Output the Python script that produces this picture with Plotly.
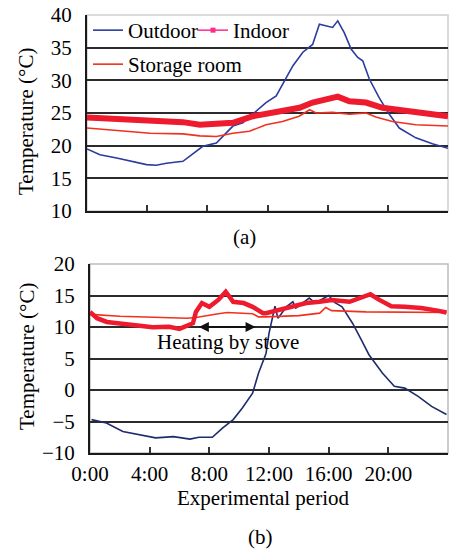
import plotly.graph_objects as go

# ---------------- data (hours of day, °C) ----------------
tick_hours = [0, 4, 8, 12, 16, 20]
tick_labels = ["0:00", "4:00", "8:00", "12:00", "16:00", "20:00"]

# (a) summer day
out_a_t = [0, 0.86, 1.97, 3.07, 3.96, 4.6, 5.28, 6.38, 7.04, 7.7, 8.6, 9.26, 9.7, 10.36, 11.03,
           11.9, 12.58, 13.13, 13.68, 14.35, 15.0, 15.45, 15.9, 16.33, 16.67, 17.1, 17.56,
           18.0, 18.33, 18.77, 19.43, 20.1, 20.76, 21.86, 22.96, 24.0]
out_a_v = [19.5, 18.6, 18.1, 17.6, 17.1, 17.0, 17.3, 17.6, 18.8, 19.9, 20.4, 21.9, 23.0, 23.5, 24.8,
           26.6, 27.6, 29.9, 32.2, 34.3, 35.5, 38.6, 38.4, 38.1, 39.1, 37.3, 34.8,
           33.5, 33.0, 30.2, 27.3, 24.8, 22.7, 21.2, 20.3, 19.6]

in_a_t = [0, 3.07, 6.38, 7.5, 9.7, 11.03, 11.9, 13.24, 14.13, 15.0, 15.9, 16.67, 17.45, 18.55,
          19.65, 20.76, 21.86, 22.96, 24.0]
in_a_v = [24.3, 23.9, 23.6, 23.2, 23.5, 24.5, 24.9, 25.3, 25.8, 26.6, 27.1, 27.5, 26.8, 26.6,
          25.8, 25.5, 25.1, 24.9, 24.5]

st_a_t = [0, 2.0, 4.2, 6.38, 7.5, 8.6, 9.7, 10.8, 11.9, 13.0, 14.1, 14.8, 15.23, 16.33, 17.45,
          18.55, 19.2, 20.3, 21.86, 24.0]
st_a_v = [22.7, 22.3, 21.9, 21.8, 21.5, 21.4, 21.9, 22.2, 23.2, 23.7, 24.5, 25.5, 25.0, 25.1,
          24.8, 25.0, 24.4, 23.7, 23.2, 23.0]

# (b) winter day
out_b_t = [0.1, 1.1, 2.2, 3.3, 4.4, 5.6, 6.7, 7.3, 8.2, 8.9, 9.6, 10.2, 10.9, 11.3, 11.8, 12.0,
           12.4, 12.6, 13.2, 13.6, 13.8, 14.7, 15.1, 16.0, 16.4, 16.9, 17.6, 18.2, 18.7, 19.6,
           20.4, 21.1, 22.0, 22.9, 23.9]
out_b_v = [-4.7, -5.25, -6.6, -7.1, -7.6, -7.4, -7.8, -7.5, -7.5, -6.0, -4.7, -2.9, -0.5, 2.7,
           5.8, 9.0, 13.3, 11.4, 13.3, 14.0, 13.0, 14.6, 13.8, 15.0, 13.9, 13.2, 10.6, 7.9, 5.6,
           2.7, 0.6, 0.3, -1.0, -2.6, -3.9]

in_b_t = [0.0, 0.47, 1.13, 2.0, 3.1, 4.2, 5.3, 6.0, 6.9, 7.1, 7.5, 8.0, 8.6, 9.1, 9.6, 10.3,
          10.9, 11.6, 11.8, 12.7, 13.6, 14.5, 15.4, 16.2, 17.4, 18.2, 18.8, 19.4, 20.2, 21.1,
          22.2, 23.3, 23.9]
in_b_v = [12.4, 11.4, 10.8, 10.6, 10.3, 9.95, 10.05, 9.7, 10.6, 12.4, 13.8, 13.2, 14.3, 15.6,
          14.0, 13.8, 13.2, 12.2, 12.2, 12.7, 13.2, 13.8, 14.0, 14.3, 14.0, 14.6, 15.2, 14.3,
          13.3, 13.2, 13.0, 12.6, 12.3]

st_b_t = [0.0, 2.0, 6.5, 7.1, 8.6, 9.2, 10.9, 11.3, 11.8, 14.0, 15.4, 15.8, 16.2, 18.5, 23.9]
st_b_v = [12.0, 11.7, 11.4, 11.5, 12.1, 12.3, 12.1, 11.6, 11.6, 11.8, 12.2, 13.1, 12.6, 12.4, 12.3]

heat_start, heat_end, heat_level = 7.2, 11.1, 10.0

# ---------------- styling ----------------
FONT = "Liberation Serif"
FS = 21
BLUE_A = "#2a3c9c"
BLUE_B = "#1f2c6c"
RED_IN = "#ee1a2e"
RED_ST = "#f2301e"
GRID = "#2b2b2b"

fig = go.Figure()

# top panel
fig.add_trace(go.Scatter(x=out_a_t, y=out_a_v, mode="lines", name="Outdoor",
                         line=dict(color=BLUE_A, width=1.6), xaxis="x", yaxis="y",
                         legend="legend"))
fig.add_trace(go.Scatter(x=st_a_t, y=st_a_v, mode="lines", name="Storage room",
                         line=dict(color=RED_ST, width=1.6), xaxis="x", yaxis="y",
                         legend="legend2"))
fig.add_trace(go.Scatter(x=in_a_t, y=in_a_v, mode="lines", name="Indoor",
                         line=dict(color=RED_IN, width=6), xaxis="x", yaxis="y",
                         showlegend=False))
# legend-only entry for Indoor (thin magenta line with square marker)
fig.add_trace(go.Scatter(x=[None], y=[None], mode="lines+markers", name="Indoor",
                         line=dict(color="#ff2a8a", width=1.5),
                         marker=dict(symbol="square", size=5, color="#ff2a8a"),
                         xaxis="x", yaxis="y", legend="legend"))

# bottom panel
fig.add_trace(go.Scatter(x=out_b_t, y=out_b_v, mode="lines", line=dict(color=BLUE_B, width=1.6),
                         xaxis="x2", yaxis="y2", showlegend=False))
fig.add_trace(go.Scatter(x=st_b_t, y=st_b_v, mode="lines", line=dict(color=RED_ST, width=1.6),
                         xaxis="x2", yaxis="y2", showlegend=False))
fig.add_trace(go.Scatter(x=in_b_t, y=in_b_v, mode="lines", line=dict(color=RED_IN, width=4.5),
                         xaxis="x2", yaxis="y2", showlegend=False))

W, H = 449, 554
def px_x(p): return p / W
def px_y(p): return 1 - p / H

axis_common = dict(showgrid=True, gridcolor=GRID, gridwidth=2, zeroline=False,
                   showline=True, linecolor="#1a1a1a", linewidth=2, automargin=False,
                   tickfont=dict(family=FONT, size=FS, color="black"))

def label(text, x, y, **kw):
    return dict(text=text, x=x, y=y, xref=kw.pop("xref", "paper"), yref=kw.pop("yref", "paper"),
                xanchor="center", yanchor="middle", showarrow=False,
                font=dict(family=FONT, size=FS, color="black"), **kw)

fig.update_layout(
    template="none",
    width=W, height=H, margin=dict(l=0, r=0, t=0, b=0, pad=0, autoexpand=False),
    paper_bgcolor="white", plot_bgcolor="white",
    font=dict(family=FONT, size=FS, color="black"),
    xaxis=dict(domain=[px_x(87), px_x(448)], range=[0, 24], anchor="y", automargin=False,
               tickvals=tick_hours[1:], showticklabels=False, ticks="inside", ticklen=6,
               tickwidth=2, tickcolor="#333", showgrid=False, zeroline=False,
               showline=True, linecolor="#1a1a1a", linewidth=2),
    yaxis=dict(domain=[px_y(211), px_y(15)], range=[10, 40], anchor="x",
               tickvals=[10, 15, 20, 25, 30, 35, 40], ticks="", ticklabelstandoff=9,
               **axis_common),
    xaxis2=dict(domain=[px_x(90), px_x(448)], range=[0, 24], anchor="y2", automargin=False,
                tickvals=tick_hours, ticktext=tick_labels, ticks="inside", ticklen=6,
                tickwidth=2, tickcolor="#333", showgrid=False, zeroline=False,
                showline=True, linecolor="#1a1a1a", linewidth=2, ticklabelstandoff=1,
                tickfont=dict(family=FONT, size=FS, color="black")),
    yaxis2=dict(domain=[px_y(453), px_y(264)], range=[-10, 20], anchor="x2",
                tickvals=[-10, -5, 0, 5, 10, 15, 20], ticks="", ticklabelstandoff=9,
                **axis_common),
    legend=dict(orientation="h", x=px_x(88), y=px_y(10), xanchor="left", yanchor="top",
                bgcolor="rgba(0,0,0,0)", borderwidth=0,
                font=dict(family=FONT, size=FS, color="black"),
                entrywidth=60, entrywidthmode="pixels", itemwidth=30, tracegroupgap=0),
    legend2=dict(orientation="h", x=px_x(88), y=px_y(44), xanchor="left", yanchor="top",
                 bgcolor="rgba(0,0,0,0)", borderwidth=0,
                 font=dict(family=FONT, size=FS, color="black"), itemwidth=30),
    shapes=[
        dict(type="rect", xref="x domain", yref="y domain", x0=0, x1=1, y0=0, y1=1,
             line=dict(color="#cfcfcf", width=1.5), layer="below"),
        dict(type="rect", xref="x2 domain", yref="y2 domain", x0=0, x1=1, y0=0, y1=1,
             line=dict(color="#bdbdbd", width=1.5), layer="below"),
    ],
    annotations=[
        label("Temperature (°C)", px_x(26), px_y(122), textangle=-90),
        label("Temperature (°C)", px_x(27), px_y(357), textangle=-90),
        label("(a)", px_x(244), px_y(237)),
        label("Experimental period", px_x(263), px_y(498)),
        label("(b)", px_x(260), px_y(537)),
        label("Heating by stove", (heat_start + heat_end) / 2 + 0.1, 7.6, xref="x2", yref="y2"),
        dict(text="", x=heat_end, y=heat_level, ax=heat_start, ay=heat_level,
             xref="x2", yref="y2", axref="x2", ayref="y2", showarrow=True,
             arrowhead=2, startarrowhead=2, arrowside="end+start", arrowsize=1,
             arrowwidth=2, arrowcolor="#111"),
    ],
)

fig.write_html("out.html", config={"displayModeBar": False},
               post_script="document.body.style.margin='0';")
